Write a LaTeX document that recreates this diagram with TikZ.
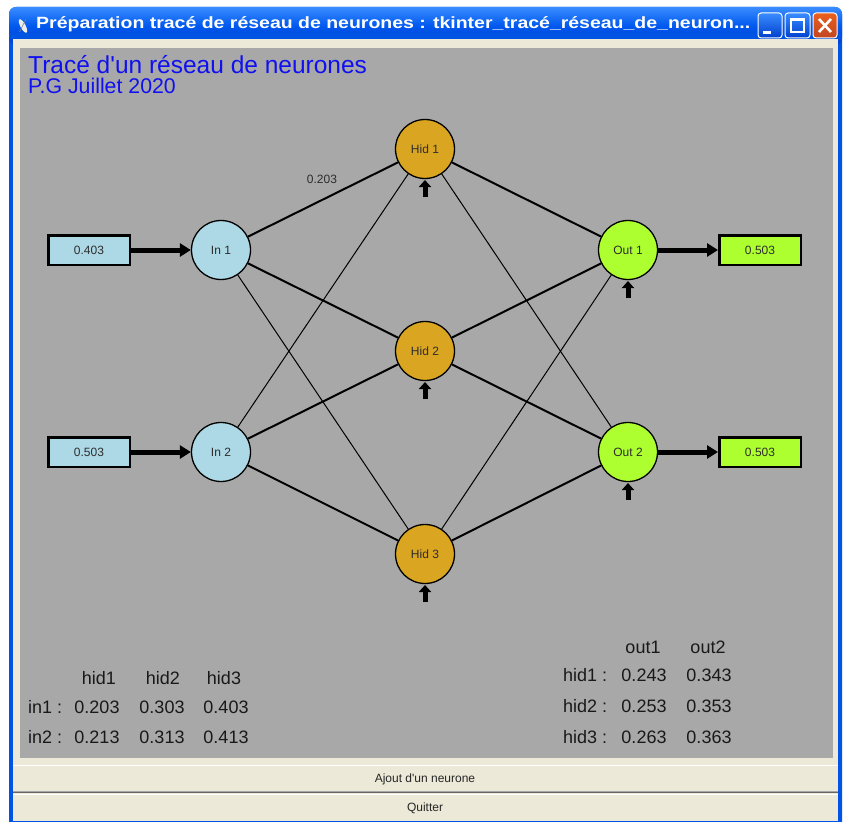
\documentclass[tikz,border=0pt]{standalone}
\usepackage{fontspec}
\setmainfont{Liberation Sans}[Ligatures=TeXOff]
\usetikzlibrary{arrows.meta,calc}

\definecolor{canvasgray}{RGB}{168,168,168}
\definecolor{xpbeige}{RGB}{236,233,216}
\definecolor{xpblue}{RGB}{0,84,227}
\definecolor{xpbluetop}{RGB}{58,140,255}
\definecolor{xpbluemid}{RGB}{0,88,238}
\definecolor{xpbluebot}{RGB}{0,64,205}
\definecolor{xpred}{RGB}{226,82,40}
\definecolor{inblue}{RGB}{173,216,230}
\definecolor{hidgold}{RGB}{218,165,32}
\definecolor{outgreen}{RGB}{173,255,47}
\definecolor{labelgray}{RGB}{45,45,45}
\definecolor{titleblue}{RGB}{16,16,240}

\tikzset{
  neuron/.style={circle, draw=black, line width=1.3pt, minimum size=59pt,
    inner sep=0pt, text=labelgray, font=\fontsize{12}{14}\selectfont},
  innode/.style={neuron, fill=inblue},
  hidnode/.style={neuron, fill=hidgold},
  outnode/.style={neuron, fill=outgreen},
  valbox/.style={rectangle, draw=black, line width=2.5pt, minimum width=81.5pt,
    minimum height=29.5pt, inner sep=0pt, text=labelgray,
    font=\fontsize{12}{14}\selectfont},
  wthick/.style={line width=2pt},
  wthin/.style={line width=1pt},
  flow/.style={line width=5pt, -{Triangle[length=11pt,width=13pt]}},
  biasarrow/.style={line width=5pt, -{Triangle[length=7pt,width=12pt]}},
  tabtext/.style={anchor=base, inner sep=0pt, text=black!90,
    font=\fontsize{18}{20}\selectfont},
  xpbtn/.style={draw=white, line width=1pt, rounded corners=3pt},
}

\begin{document}
\begin{tikzpicture}[x=1pt,y=-1pt]
\useasboundingbox (0,0) rectangle (845,821);
\fill[white] (0,0) rectangle (845,821);

% window frame and title bar
\fill[xpblue, rounded corners=7pt] (9,7) rectangle (842,840);
\shade[top color=xpbluetop, bottom color=xpbluebot, middle color=xpbluemid, rounded corners=7pt]
  (9,7) rectangle (842,45);
\fill[xpblue] (9,33) rectangle (842,39);
\fill[xpbeige] (13,39) rectangle (838,821);

% title bar icon and caption
\fill[white!85!gray, rotate around={-62:(23,26)}] (23,26) ellipse (7.5pt and 2.6pt);
\draw[gray, line width=0.6pt] (19.5,32) -- (26,19);
\node[anchor=west, text=white, inner sep=0pt, font=\bfseries\fontsize{16.3}{18}\selectfont]
  (caption) at (36,24) {\scalebox{1.195}[1]{Préparation tracé de réseau de neurones : tkinter\_tracé\_réseau\_de\_neuron...}};

% title bar buttons
\shade[xpbtn, top color=xpbluetop, bottom color=xpbluebot] (758,13) rectangle (782,38);
\fill[white] (763,31) rectangle (771,34);
\shade[xpbtn, top color=xpbluetop, bottom color=xpbluebot] (785,13) rectangle (810,38);
\draw[white, line width=1.2pt] (791,19) rectangle (804,32);
\fill[white] (790.4,18.4) rectangle (804.6,21.5);
\shade[xpbtn, top color=xpred!70!orange, bottom color=xpred!85!black] (813,13) rectangle (837,38);
\draw[white, line width=2.6pt] (819,19) -- (831,32) (831,19) -- (819,32);

% drawing canvas
\fill[canvasgray] (20,48) rectangle (833,758);

% buttons under the canvas
\fill[xpbeige] (13,765) rectangle (838,793);
\draw[white, line width=1pt] (13,765.5) -- (838,765.5);
\draw[black!35, line width=1pt] (13,791.5) -- (838,791.5);
\draw[black!60, line width=1pt] (13,792.5) -- (838,792.5);
\draw[white, line width=1pt] (13,794.5) -- (838,794.5);
\node[font=\fontsize{12}{14}\selectfont, text=black!85] (btnadd) at (425,779) {Ajout d'un neurone};
\node[font=\fontsize{12}{14}\selectfont, text=black!85] (btnquit) at (425,808) {Quitter};

% headings
\node[anchor=base west, inner sep=0pt, text=titleblue, font=\fontsize{24.5}{26}\selectfont]
  (title) at (28,73.5) {Tracé d'un réseau de neurones};
\node[anchor=base west, inner sep=0pt, text=titleblue, font=\fontsize{21.3}{22}\selectfont]
  (author) at (28,93.5) {P.G Juillet 2020};

% neurons
\node[innode] (in1) at (221,250) {In 1};
\node[innode] (in2) at (221,452) {In 2};
\node[hidnode] (hid1) at (425,149) {Hid 1};
\node[hidnode] (hid2) at (425,351) {Hid 2};
\node[hidnode] (hid3) at (425,554) {Hid 3};
\node[outnode] (out1) at (628,250) {Out 1};
\node[outnode] (out2) at (628,452) {Out 2};

% input and output values
\node[valbox, fill=inblue] (ibox1) at (89,250) {0.403};
\node[valbox, fill=inblue] (ibox2) at (89,452) {0.503};
\node[valbox, fill=outgreen] (obox1) at (760,250) {0.503};
\node[valbox, fill=outgreen] (obox2) at (760,452) {0.503};

% weights: input -> hidden
\draw[wthick] (in1) -- (hid1);
\draw[wthick] (in1) -- (hid2);
\draw[wthin]  (in1) -- (hid3);
\draw[wthin]  (in2) -- (hid1);
\draw[wthick] (in2) -- (hid2);
\draw[wthick] (in2) -- (hid3);
% weights: hidden -> output
\draw[wthick] (hid1) -- (out1);
\draw[wthin]  (hid1) -- (out2);
\draw[wthick] (hid2) -- (out1);
\draw[wthick] (hid2) -- (out2);
\draw[wthin]  (hid3) -- (out1);
\draw[wthick] (hid3) -- (out2);

\node[text=labelgray, font=\fontsize{12}{14}\selectfont] (w11) at (322,179) {0.203};

% value flows
\draw[flow] (ibox1) -- (in1);
\draw[flow] (ibox2) -- (in2);
\draw[flow] (out1) -- (obox1);
\draw[flow] (out2) -- (obox2);

% bias arrows
\foreach \n/\x/\y in {hid1/425/149, hid2/425/351, hid3/425/554, out1/628/250, out2/628/452}{
  \coordinate (\n-bs) at (\x,\y+48);
  \coordinate (\n-be) at (\x,\y+31);
  \draw[biasarrow] (\n-bs) -- (\n-be);
}

% weight table input -> hidden
\node[tabtext] (th1) at (99,684) {hid1};
\node[tabtext] (th2) at (163,684) {hid2};
\node[tabtext] (th3) at (224,684) {hid3};
\node[tabtext, anchor=base west] (tr1) at (28,713) {in1 :};
\node[tabtext, anchor=base west] (tr2) at (28,743) {in2 :};
\node[tabtext] (t11) at (97,713) {0.203};
\node[tabtext] (t12) at (162,713) {0.303};
\node[tabtext] (t13) at (226,713) {0.403};
\node[tabtext] (t21) at (97,743) {0.213};
\node[tabtext] (t22) at (162,743) {0.313};
\node[tabtext] (t23) at (226,743) {0.413};

% weight table hidden -> output
\node[tabtext] (uh1) at (643,653) {out1};
\node[tabtext] (uh2) at (708,653) {out2};
\node[tabtext, anchor=base west] (ur1) at (563,681) {hid1 :};
\node[tabtext, anchor=base west] (ur2) at (563,712) {hid2 :};
\node[tabtext, anchor=base west] (ur3) at (563,743) {hid3 :};
\node[tabtext] (u11) at (644,681) {0.243};
\node[tabtext] (u12) at (709,681) {0.343};
\node[tabtext] (u21) at (644,712) {0.253};
\node[tabtext] (u22) at (709,712) {0.353};
\node[tabtext] (u31) at (644,743) {0.263};
\node[tabtext] (u32) at (709,743) {0.363};
\end{tikzpicture}
\end{document}
